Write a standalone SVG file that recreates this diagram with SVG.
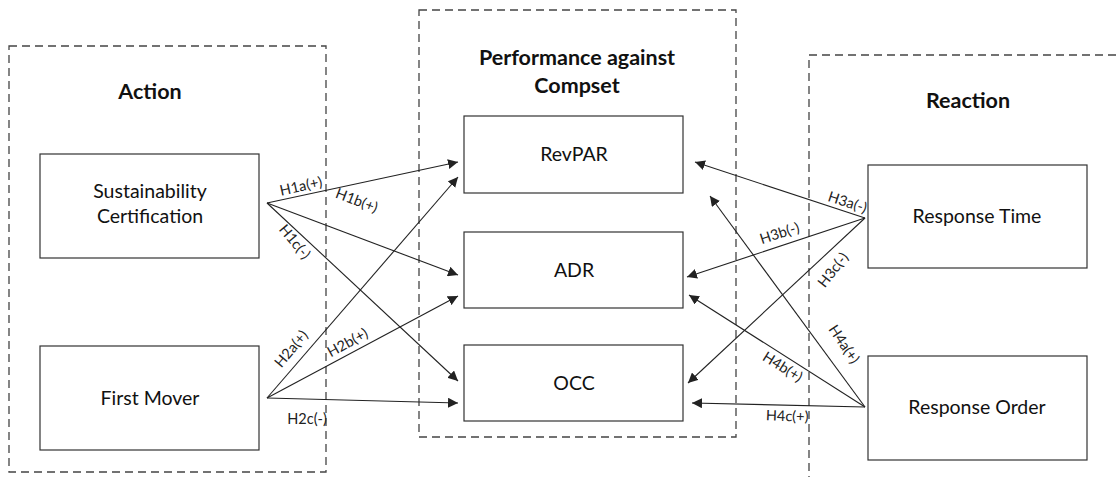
<svg xmlns="http://www.w3.org/2000/svg" width="1116" height="477" viewBox="0 0 1116 477">
<defs>
<marker id="ah" viewBox="0 0 10 10" refX="10" refY="5" markerWidth="10" markerHeight="10" markerUnits="userSpaceOnUse" orient="auto">
<path d="M0,0 L10,5 L0,10 z" fill="#222"/>
</marker>
</defs>
<style>
.grp{fill:none;stroke:#444;stroke-width:1.3;stroke-dasharray:8,5}
.box{fill:#fff;stroke:#333;stroke-width:1.2}
.t{font-family:Lato,"Liberation Sans",sans-serif;font-size:19.5px;fill:#111;text-anchor:middle}
.h{font-family:Lato,"Liberation Sans",sans-serif;font-size:21.5px;font-weight:bold;fill:#111;text-anchor:middle}
.l{font-family:Lato,"Liberation Sans",sans-serif;font-size:14.5px;fill:#222;text-anchor:middle}
.c{stroke:#222;stroke-width:1.1;fill:none;marker-end:url(#ah)}
</style>
<rect width="1116" height="477" fill="#fff"/>
<g id="group-action">
<rect class="grp" x="9" y="46" width="317" height="426"/>
<text class="h" x="150" y="99">Action</text>
</g>
<g id="group-performance">
<rect class="grp" x="419" y="10" width="317" height="427"/>
<text class="h" x="577" y="65">Performance against</text>
<text class="h" x="577" y="93">Compset</text>
</g>
<g id="group-reaction">
<path class="grp" d="M1116,55 L809,55 L809,477"/>
<text class="h" x="968" y="108">Reaction</text>
</g>
<g id="node-sustainability">
<rect class="box" x="40" y="154" width="219" height="104"/>
<text class="t" x="150" y="198">Sustainability</text>
<text class="t" x="150" y="223">Certification</text>
</g>
<g id="node-firstmover">
<rect class="box" x="40" y="346" width="219" height="104"/>
<text class="t" x="150" y="405">First Mover</text>
</g>
<g id="node-revpar">
<rect class="box" x="464" y="116" width="219" height="77"/>
<text class="t" x="574" y="161">RevPAR</text>
</g>
<g id="node-adr">
<rect class="box" x="464" y="232" width="219" height="76"/>
<text class="t" x="574" y="277">ADR</text>
</g>
<g id="node-occ">
<rect class="box" x="464" y="345" width="219" height="76"/>
<text class="t" x="574" y="390">OCC</text>
</g>
<g id="node-responsetime">
<rect class="box" x="868" y="165" width="219" height="103"/>
<text class="t" x="977" y="223">Response Time</text>
</g>
<g id="node-responseorder">
<rect class="box" x="868" y="356" width="219" height="104"/>
<text class="t" x="977" y="414">Response Order</text>
</g>
<g id="connectors">
<line class="c" x1="267" y1="203" x2="458" y2="162"/>
<line class="c" x1="267" y1="203" x2="458" y2="275"/>
<line class="c" x1="267" y1="203" x2="458" y2="381"/>
<line class="c" x1="267" y1="398" x2="458" y2="177"/>
<line class="c" x1="267" y1="398" x2="458" y2="296"/>
<line class="c" x1="267" y1="398" x2="458" y2="403"/>
<line class="c" x1="865" y1="218" x2="695" y2="162"/>
<line class="c" x1="865" y1="218" x2="687" y2="277"/>
<line class="c" x1="865" y1="218" x2="688" y2="383"/>
<line class="c" x1="865" y1="407" x2="710" y2="196"/>
<line class="c" x1="865" y1="407" x2="689" y2="295"/>
<line class="c" x1="865" y1="407" x2="692" y2="403"/>
<text class="l" transform="translate(302,191) rotate(-12.5)">H1a(+)</text>
<text class="l" transform="translate(355,205) rotate(21)">H1b(+)</text>
<text class="l" transform="translate(291,245) rotate(50)">H1c(-)</text>
<text class="l" transform="translate(295,352) rotate(-50)">H2a(+)</text>
<text class="l" transform="translate(350,347) rotate(-29)">H2b(+)</text>
<text class="l" transform="translate(307,424)">H2c(-)</text>
<text class="l" transform="translate(846,207) rotate(18)">H3a(-)</text>
<text class="l" transform="translate(781,238) rotate(-18)">H3b(-)</text>
<text class="l" transform="translate(837,273) rotate(-52)">H3c(-)</text>
<text class="l" transform="translate(840,347) rotate(56)">H4a(+)</text>
<text class="l" transform="translate(780,371) rotate(32)">H4b(+)</text>
<text class="l" transform="translate(787,421) rotate(2)">H4c(+)</text>
</g>
</svg>
